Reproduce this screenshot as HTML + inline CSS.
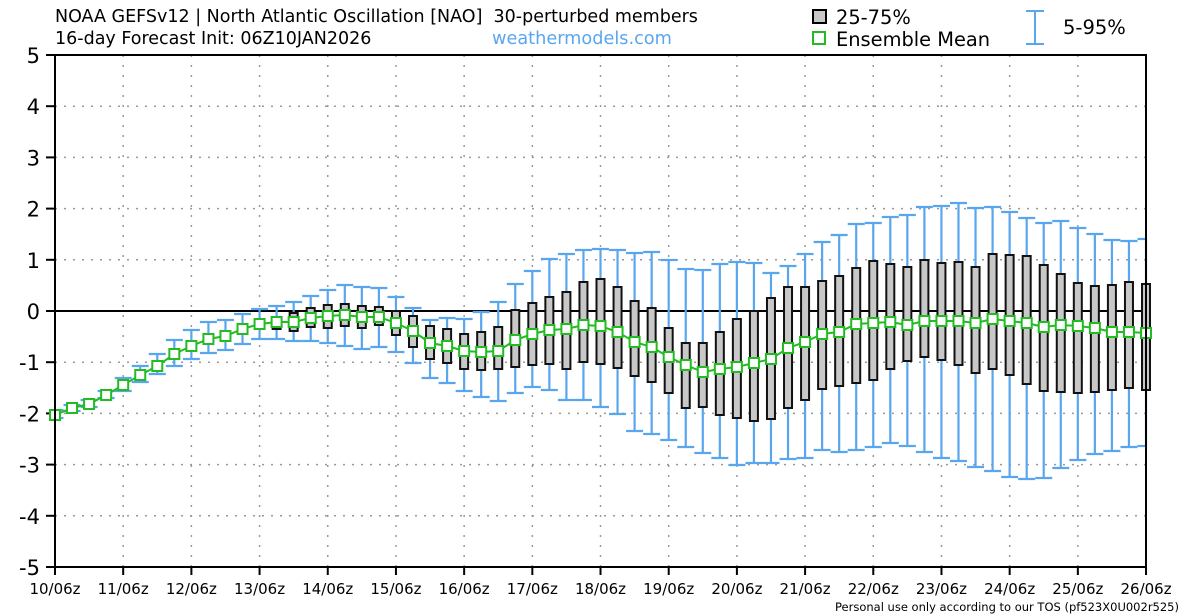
<!DOCTYPE html>
<html><head><meta charset="utf-8"><style>
body{margin:0;background:#fff;width:1200px;height:616px;overflow:hidden}
svg{display:block;font-family:"DejaVu Sans","Liberation Sans",sans-serif}
</style></head><body>
<svg id="s" width="1200" height="616" xmlns="http://www.w3.org/2000/svg">
<rect width="1200" height="616" fill="#fff"/>
<g id="grid"></g>
<line x1="55" y1="311" x2="1146" y2="311" stroke="#000" stroke-width="2"/>
<g id="data"></g>
<rect x="55" y="55" width="1091" height="512" fill="none" stroke="#000" stroke-width="2"/>
<g id="ticks" font-size="21" fill="#000"></g>
<g id="xl" font-size="15" fill="#000"></g>
<text x="55" y="22" font-size="17.5">NOAA GEFSv12 | North Atlantic Oscillation [NAO]&#160; 30-perturbed members</text>
<text x="55" y="44" font-size="17.5">16-day Forecast Init: 06Z10JAN2026</text>
<text x="492" y="44" font-size="17.7" fill="#5aa6ee">weathermodels.com</text>
<rect x="813" y="10" width="13" height="13" fill="#c8c8c8" stroke="#000" stroke-width="2"/>
<text x="836" y="24" font-size="19.4">25-75%</text>
<rect x="813" y="32" width="12" height="12" fill="#fff" stroke="#22bb22" stroke-width="2"/>
<text x="836" y="46" font-size="19.4">Ensemble Mean</text>
<g stroke="#5aa6ee" stroke-width="2"><line x1="1035" y1="11" x2="1035" y2="44"/><line x1="1026" y1="11" x2="1044" y2="11"/><line x1="1026" y1="44" x2="1044" y2="44"/></g>
<text x="1063" y="34" font-size="19.5">5-95%</text>
<text x="835" y="611" font-size="11.5" fill="#000">Personal use only according to our TOS (pf523X0U002r525)</text>
</svg>
<script>
var NS="http://www.w3.org/2000/svg";
function el(p,t,a,txt){var e=document.createElementNS(NS,t);for(var k in a)e.setAttribute(k,a[k]);if(txt!=null)e.textContent=txt;p.appendChild(e);return e;}
var g=document.getElementById('grid'),tk=document.getElementById('ticks'),xl=document.getElementById('xl'),d=document.getElementById('data');
for(var v=-5;v<=5;v++){var y=311-v*51.2;
 if(v!=0&&v!=5&&v!=-5)el(g,'line',{x1:55,x2:1146,y1:y,y2:y,stroke:'#999','stroke-dasharray':'2,7','stroke-width':1.5});
 el(g,'line',{x1:46,x2:55,y1:y,y2:y,stroke:'#000','stroke-width':2});
 el(tk,'text',{x:40,y:y+8,'text-anchor':'end'},String(v));}
for(var k=0;k<=16;k++){var x=55+k*68.19;
 if(k>0&&k<16)el(g,'line',{x1:x,x2:x,y1:55,y2:567,stroke:'#999','stroke-dasharray':'2,8','stroke-width':1.5});
 el(g,'line',{x1:x,x2:x,y1:567,y2:575,stroke:'#000','stroke-width':2});
 el(xl,'text',{x:x,y:594,'text-anchor':'middle'},(10+k)+'/06z');}
var D=[[410,413,415,417,418],[405,406,408,410,411],[400,402,404,406,407],[391,393,395,397,398],[378,383,385,387,391],[366,373,375,377,382],[354,364,366,368,374],[340,352,354,356,366],[330,344,346,348,359],[322,336,339,341,353],[320,333,336,339,350],[314,325,329,334,344],[309,320,324,329,339],[306,317,322,329,339],[302,313,322,331,341],[296,308,318,327,341],[290,305,316,328,343],[285,304,315,326,346],[287,306,317,328,349],[288,307,317,325,347],[297,311,323,335,352],[308,316,331,347,363],[320,326,343,359,378],[318,329,346,363,383],[319,334,351,369,391],[312,332,352,370,397],[302,327,351,369,401],[284,310,340,367,393],[271,303,334,365,387],[259,297,330,364,390],[254,292,329,369,400],[250,282,325,362,400],[249,279,326,364,407],[250,287,332,368,414],[253,301,342,376,431],[252,308,347,382,434],[260,328,357,393,440],[269,343,365,408,447],[270,343,372,407,453],[264,332,369,415,458],[262,319,367,418,465],[263,311,363,421,463],[273,298,359,419,463],[266,287,348,408,459],[254,287,342,400,458],[242,281,334,389,450],[235,276,332,386,452],[224,268,324,383,450],[223,261,323,380,447],[217,264,322,369,443],[215,267,325,361,446],[207,260,321,357,452],[206,263,321,360,458],[203,262,321,365,461],[208,267,323,373,467],[207,254,319,369,471],[212,255,321,375,477],[218,256,323,384,479],[223,265,327,391,478],[221,274,325,392,468],[228,283,326,393,460],[234,286,328,392,454],[240,285,332,390,451],[241,282,332,388,447],[239,284,333,390,446]];
var pts=[];
D.forEach(function(r,i){var x=55+i*17.047;
 var w=el(d,'g',{stroke:'#5aa6ee','stroke-width':2.2});
 el(w,'line',{x1:x,x2:x,y1:r[0],y2:r[4]});
 el(w,'line',{x1:Math.max(55,x-8.5),x2:Math.min(1146,x+8.5),y1:r[0],y2:r[0]});
 el(w,'line',{x1:Math.max(55,x-8.5),x2:Math.min(1146,x+8.5),y1:r[4],y2:r[4]});
 pts.push(x+','+r[2]);});
D.forEach(function(r,i){var x=55+i*17.047;
 if(r[3]-r[1]>5)el(d,'rect',{x:x-4,y:r[1],width:8,height:r[3]-r[1],fill:'#c8c8c8',stroke:'#111','stroke-width':2});});
el(d,'polyline',{points:pts.join(' '),fill:'none',stroke:'#22bb22','stroke-width':2});
D.forEach(function(r,i){var x=55+i*17.047;
 el(d,'rect',{x:x-5,y:r[2]-5,width:10,height:10,fill:'#fff',stroke:'#22bb22','stroke-width':2});});
</script>
</body></html>
